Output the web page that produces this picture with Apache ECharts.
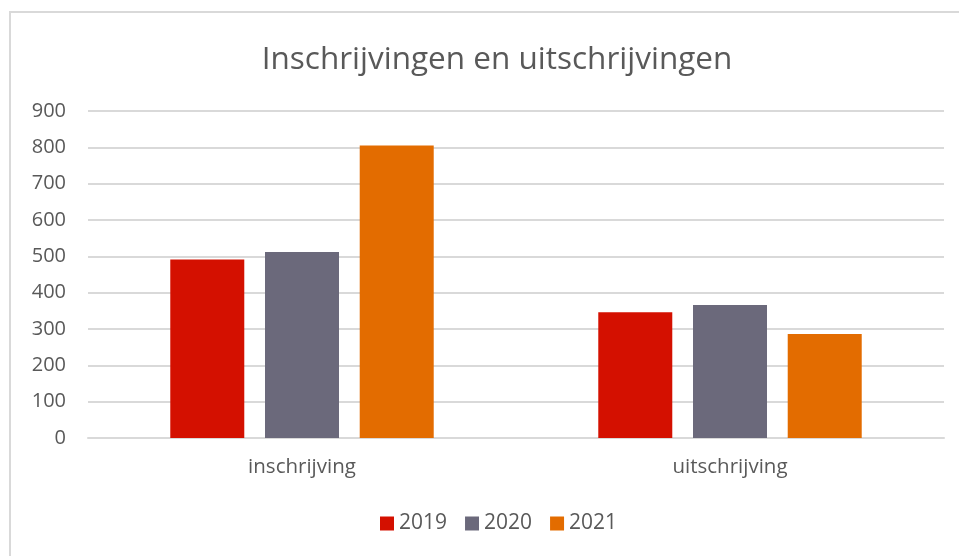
<!DOCTYPE html>
<html>
<head>
<meta charset="utf-8">
<script src="https://cdn.jsdelivr.net/npm/echarts@6/dist/echarts.min.js"></script>
<style>
  html, body { margin: 0; padding: 0; background: #fff; }
  #chart { width: 959px; height: 556px; }
</style>
</head>
<body>
<div id="chart"></div>
<script>
// categories and the yearly values
const categories = ['inschrijving', 'uitschrijving'];
const years = ['2019', '2020', '2021'];
const values2019 = [491, 346];
const values2020 = [512, 366];
const values2021 = [805, 286];
const yearColors = ['#d41000', '#6b697b', '#e36c00'];

const FONT = 'Open Sans';
const TEXT = '#595959';

let chart = echarts.init(document.getElementById('chart'));

let seriesData = [values2019, values2020, values2021];

let option = {
    animation: false,
    title: {
        text: 'Inschrijvingen en uitschrijvingen',
        left: 492,
        textAlign: 'center',
        top: 39,
        textStyle: { color: TEXT, fontFamily: FONT, fontSize: 31.5, fontWeight: 'normal' }
    },
    legend: {
        data: years,
        left: 375,
        bottom: 17,
        itemWidth: 14,
        itemHeight: 14,
        itemGap: 18,
        icon: 'rect',
        textStyle: { color: TEXT, fontFamily: FONT, fontSize: 21 }
    },
    grid: { left: 88, right: 15, top: 111, bottom: 118, containLabel: false },
    xAxis: {
        type: 'category',
        data: categories,
        axisLine: { lineStyle: { color: '#d9d9d9', width: 2 } },
        axisTick: { show: false },
        axisLabel: { color: TEXT, fontFamily: FONT, fontSize: 20.5, margin: 19 }
    },
    yAxis: {
        type: 'value',
        min: 0,
        max: 900,
        interval: 100,
        axisLine: { show: false },
        axisTick: { show: false },
        axisLabel: { color: TEXT, fontFamily: FONT, fontSize: 20, margin: 22 },
        splitLine: { lineStyle: { color: '#d9d9d9', width: 2 } }
    },
    graphic: [{
        type: 'rect',
        shape: { x: 10, y: 12, width: 1000, height: 600 },
        style: { fill: 'none', stroke: '#d9d9d9', lineWidth: 2 },
        silent: true
    }],
    series: years.map((y, i) => ({
        name: y,
        type: 'bar',
        data: seriesData[i],
        barWidth: 74,
        barGap: '28%',
        itemStyle: { color: yearColors[i] }
    }))
};

chart.setOption(option);
</script>
</body>
</html>
